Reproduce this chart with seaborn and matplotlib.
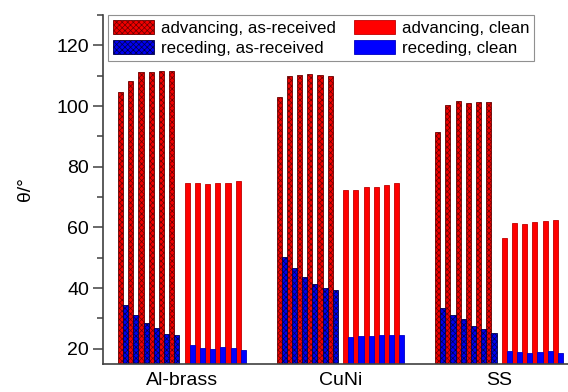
import numpy as np
import pandas as pd
import matplotlib
matplotlib.use("Agg")
import matplotlib.pyplot as plt
from matplotlib.patches import Patch
from matplotlib.ticker import MultipleLocator
import seaborn as sns

# Contact angles (degrees), six successive measurements per material
materials = ["Al-brass", "CuNi", "SS"]
adv_as_received = [104.5, 108.3, 111.1, 111.3, 111.7, 111.6,
                   102.9, 109.8, 110.2, 110.5, 110.1, 109.8,
                   91.3, 100.3, 101.6, 100.9, 101.2, 101.3]
rec_as_received = [34.6, 31.1, 28.6, 26.7, 24.9, 24.5,
                   50.1, 46.5, 43.8, 41.3, 40.0, 39.4,
                   33.6, 31.0, 29.8, 27.6, 26.5, 25.2]
adv_clean = [74.6, 74.8, 74.4, 74.6, 74.5, 75.2,
             72.3, 72.3, 73.3, 73.4, 74.1, 74.5,
             56.6, 61.3, 61.1, 61.8, 62.2, 62.4]
rec_clean = [21.1, 20.3, 20.1, 20.7, 20.4, 19.6,
             24.0, 24.2, 24.2, 24.4, 24.4, 24.5,
             19.3, 19.1, 18.7, 19.1, 19.4, 18.6]
legend_labels = ["advancing, as-received", "receding, as-received",
                 "advancing, clean", "receding, clean"]

sns.set_theme(style="ticks")
plt.rcParams["font.family"] = ["Liberation Sans", "DejaVu Sans"]
plt.rcParams["hatch.linewidth"] = 0.5
for key in ["text.color", "axes.labelcolor", "xtick.color", "ytick.color"]:
    plt.rcParams[key] = "black"

n_rep = 6
group_step = 15.5
clean_shift = 6.5
group_start = np.repeat(np.arange(len(materials)) * group_step, n_rep)
rep = np.tile(np.arange(n_rep), len(materials))
x_received = group_start + rep
x_clean = group_start + clean_shift + rep

fig = plt.figure(figsize=(5.68, 3.92), dpi=100)
ax = fig.add_axes([103 / 568, 1 - 364 / 392, 465 / 568, (364 - 15) / 392])

series = [
    (x_received, adv_as_received, "#f00000", "#6a0000", "xxxxxx"),
    (x_received + 0.5, rec_as_received, "#0000f0", "#00004a", "xxxxxx"),
    (x_clean, adv_clean, "#ff0000", "#c00000", None),
    (x_clean + 0.5, rec_clean, "#0000ff", "#0000c0", None),
]

for xs, vals, face, edge, hatch in series:
    df = pd.DataFrame({"x": xs, "theta": vals})
    n_before = len(ax.patches)
    sns.barplot(data=df, x="x", y="theta", native_scale=True, width=0.5,
                color=face, saturation=1, errorbar=None, ax=ax)
    for p in ax.patches[n_before:]:
        p.set_edgecolor(edge)
        p.set_linewidth(0.6)
        if hatch:
            p.set_hatch(hatch)

ax.set_xlim(-1.72, 43.74)
ax.set_ylim(15, 130)
centers = np.arange(len(materials)) * group_step + 6.0
ax.set_xticks(centers)
ax.set_xticklabels(materials)
ax.tick_params(axis="x", length=0, labelsize=14, pad=6)
ax.yaxis.set_major_locator(MultipleLocator(20))
ax.yaxis.set_minor_locator(MultipleLocator(10))
ax.tick_params(axis="y", which="major", length=7, width=1.1, labelsize=14,
               color="#404040", pad=3)
ax.tick_params(axis="y", which="minor", length=4, width=1.1, color="#404040")
ax.set_xlabel("")
ax.set_ylabel("θ/°", fontsize=14, labelpad=16)

for side in ["top", "right"]:
    ax.spines[side].set_visible(False)
for side in ["left", "bottom"]:
    ax.spines[side].set_color("#404040")
    ax.spines[side].set_linewidth(1.2)

handles = [
    Patch(facecolor="#f00000", edgecolor="#6a0000", hatch="xxxxxx", linewidth=0.6),
    Patch(facecolor="#0000f0", edgecolor="#00004a", hatch="xxxxxx", linewidth=0.6),
    Patch(facecolor="#ff0000", edgecolor="#c00000", linewidth=0.6),
    Patch(facecolor="#0000ff", edgecolor="#0000c0", linewidth=0.6),
]
leg = ax.legend(handles, legend_labels, ncol=2, loc="upper left",
                bbox_to_anchor=(0.011, 1.0), fontsize=12.2, frameon=True,
                fancybox=False, framealpha=1, edgecolor="#909090",
                handlelength=2.4, handleheight=0.9, handletextpad=0.4,
                columnspacing=1.1, labelspacing=0.25, borderpad=0.3,
                borderaxespad=0)
leg.get_frame().set_linewidth(0.8)

fig.savefig("out.png", dpi=100)
